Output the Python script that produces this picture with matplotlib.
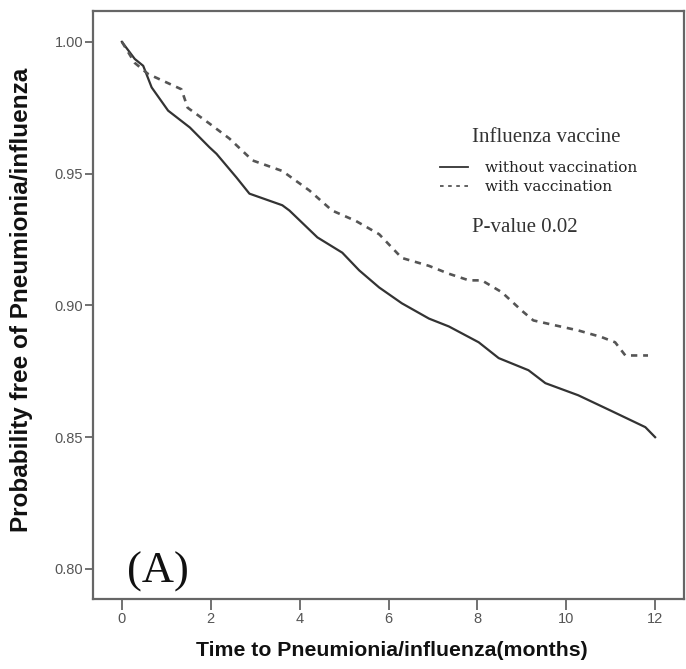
import matplotlib
matplotlib.use("Agg")
import matplotlib.pyplot as plt
from matplotlib.lines import Line2D

# Kaplan-Meier style curves
t_without = [0.0, 0.29, 0.48, 0.67, 1.04, 1.53, 1.97, 2.13, 2.58, 2.87, 3.61, 3.77, 4.40, 4.96,
             5.34, 5.79, 6.30, 6.91, 7.36, 8.03, 8.48, 9.15, 9.53, 10.27, 11.01, 11.78, 12.0]
s_without = [1.000, 0.9935, 0.9909, 0.9827, 0.9739, 0.9675, 0.960, 0.9575, 0.9485, 0.9424,
             0.938, 0.936, 0.9258, 0.920, 0.9133, 0.9068, 0.9008, 0.895, 0.892, 0.886, 0.880,
             0.8754, 0.8705, 0.8659, 0.860, 0.8538, 0.850]

t_with = [0.0, 0.29, 0.59, 1.34, 1.48, 1.97, 2.42, 2.94, 3.61, 4.22, 4.73, 5.27, 5.79, 6.30,
          6.91, 7.36, 7.81, 8.10, 8.55, 9.00, 9.26, 9.76, 10.27, 10.79, 11.10, 11.33, 11.84]
s_with = [1.000, 0.992, 0.9878, 0.982, 0.975, 0.969, 0.9633, 0.955, 0.951, 0.9436, 0.936, 0.932,
          0.927, 0.918, 0.915, 0.912, 0.9095, 0.9095, 0.905, 0.898, 0.8943, 0.8924, 0.8905,
          0.888, 0.886, 0.881, 0.881]

x_ticks = [0, 2, 4, 6, 8, 10, 12]
y_ticks = [0.80, 0.85, 0.90, 0.95, 1.00]
series_labels = ["without vaccination", "with vaccination"]
legend_title = "Influenza vaccine"
p_text = "P-value 0.02"
panel_label = "(A)"

fig = plt.figure(figsize=(6.86, 6.69), dpi=100)
ax = fig.add_axes([93/686, 70/669, (684-93)/686, (599-11)/669])

ax.plot(t_without, s_without, color="#333333", lw=1.6)
ax.plot(t_with, s_with, color="#555555", lw=1.9, linestyle=(0, (2.4, 2.2)))

ax.set_xlim(-0.65, 12.65)
ax.set_ylim(0.7886, 1.0117)
ax.set_xticks(x_ticks)
ax.set_xticklabels([str(v) for v in x_ticks])
ax.set_yticks(y_ticks)
ax.set_yticklabels([f"{v:.2f}" for v in y_ticks])

for sp in ax.spines.values():
    sp.set_color("#666666")
    sp.set_linewidth(1.6)

ax.tick_params(axis="both", direction="out", colors="#666666", labelcolor="#555555",
               labelsize=10.5, width=1.3)
ax.tick_params(axis="x", length=8, pad=1.5)
ax.tick_params(axis="y", length=6, pad=1)
for lab in ax.get_xticklabels() + ax.get_yticklabels():
    lab.set_family("Liberation Sans")

ax.set_xlabel("Time to Pneumionia/influenza(months)", fontsize=15.3, fontweight="bold",
              family="Liberation Sans", color="#111111")
ax.xaxis.set_label_coords((392-93)/591, (599-651)/588)
ax.xaxis.label.set_va("center")
ax.set_ylabel("Probability free of Pneumionia/influenza", fontsize=17.5, fontweight="bold",
              family="Liberation Sans", color="#111111")
ax.yaxis.set_label_coords((22-93)/591, (599-300)/588)
ax.yaxis.label.set_va("center")

handles = [Line2D([], [], color="#333333", lw=1.3),
           Line2D([], [], color="#555555", lw=1.3, linestyle=(0, (2, 2.5)))]
leg = ax.legend(handles, series_labels, loc="upper left",
                bbox_to_anchor=((440-93)/591, (599-161)/588), frameon=False, borderpad=0,
                borderaxespad=0, handlelength=1.8, handletextpad=1.15, labelspacing=0.35,
                prop={"family": "DejaVu Serif", "size": 11})
for txt in leg.get_texts():
    txt.set_color("#222222")

ax.text((472-93)/591, (599-138)/588, legend_title, transform=ax.transAxes, fontsize=15,
        color="#333333", family="Liberation Serif", va="center", ha="left")
ax.text((472-93)/591, (599-228)/588, p_text, transform=ax.transAxes, fontsize=15,
        color="#333333", family="Liberation Serif", va="center", ha="left")
ax.text((127-93)/591, (599-572)/588, panel_label, transform=ax.transAxes, fontsize=32,
        color="#111111", family="Liberation Serif", va="center", ha="left")

fig.savefig("out.png", dpi=100)
